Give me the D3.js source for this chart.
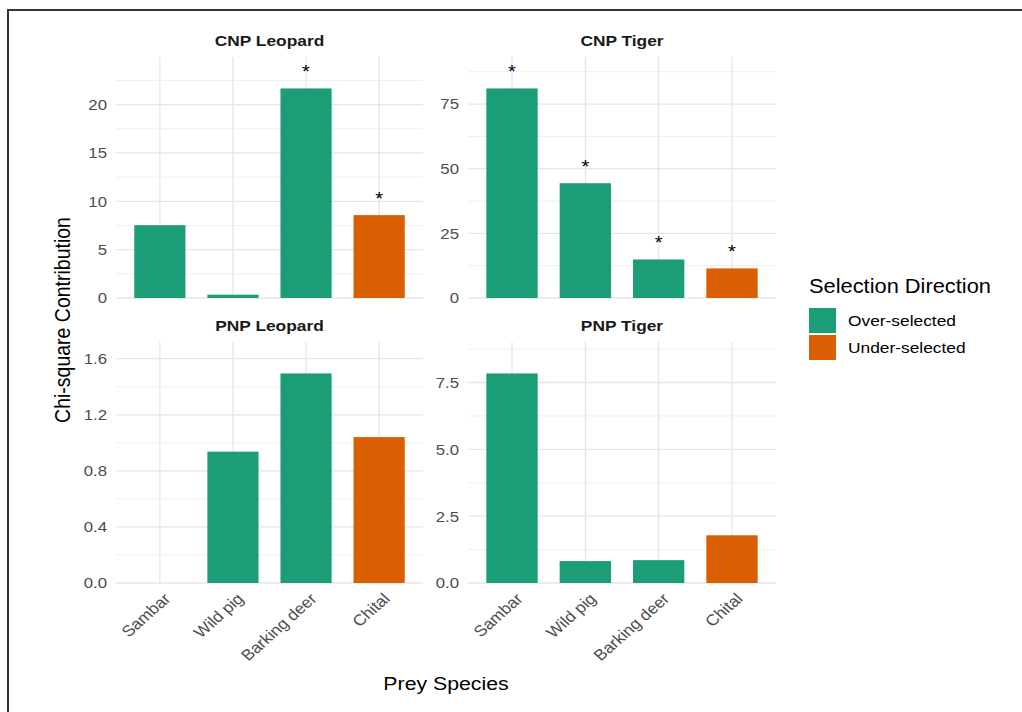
<!DOCTYPE html>
<html>
<head>
<meta charset="utf-8">
<script src="https://cdn.jsdelivr.net/npm/d3@7"></script>
<style>
  body { margin: 0; background: #fff; }
  svg { font-family: "Liberation Sans", Arial, sans-serif; }
</style>
</head>
<body>
<div id="chart"></div>
<script>
// data
const categories = ["Sambar", "Wild pig", "Barking deer", "Chital"];
const panelNames = ["CNP Leopard", "CNP Tiger", "PNP Leopard", "PNP Tiger"];
const cnpLeopard = [7.53, 0.34, 21.67, 8.57];
const cnpTiger = [81.05, 44.4, 14.9, 11.45];
const pnpLeopard = [0, 0.937, 1.495, 1.041];
const pnpTiger = [7.84, 0.82, 0.855, 1.785];
const direction = ["Over-selected", "Over-selected", "Over-selected", "Under-selected"];
const sigCnpLeopard = [false, false, true, true];
const sigCnpTiger = [true, true, true, true];
const sigPnp = [false, false, false, false];
// tick values per panel
const ticksCnpLeopard = [0, 5, 10, 15, 20];
const ticksCnpTiger = [0, 25, 50, 75];
const ticksPnpLeopard = [0, 0.4, 0.8, 1.2, 1.6];
const ticksPnpTiger = [0, 2.5, 5, 7.5];
const legendTitle = "Selection Direction";
const legendLabels = ["Over-selected", "Under-selected"];

const colors = { "Over-selected": "#1b9e77", "Under-selected": "#d95f02" };

// the source picture is a bit wider than tall, text looks stretched sideways
const STRETCH = 1.12;

const W = 1022, H = 712;
const svg = d3.select("#chart").append("svg")
  .attr("width", W).attr("height", H);

svg.append("rect").attr("width", W).attr("height", H).attr("fill", "#fff");

// outer frame of the picture
svg.append("path")
  .attr("d", `M8,${H + 5} L8,10 L${W + 5},10`)
  .attr("fill", "none").attr("stroke", "#333").attr("stroke-width", 2);

// put a text at x,y, stretched sideways, optional rotation
function place(x, y, rot) {
  return `translate(${x},${y}) scale(${STRETCH},1)` + (rot ? ` rotate(${rot})` : "");
}

const cols = [[116, 423], [468, 776]];
const rows = [[57, 298], [342, 583]];

const panels = [
  { name: panelNames[0], values: cnpLeopard, sig: sigCnpLeopard, ticks: ticksCnpLeopard, fmt: d3.format("d"), col: 0, row: 0 },
  { name: panelNames[1], values: cnpTiger, sig: sigCnpTiger, ticks: ticksCnpTiger, fmt: d3.format("d"), col: 1, row: 0 },
  { name: panelNames[2], values: pnpLeopard, sig: sigPnp, ticks: ticksPnpLeopard, fmt: d3.format(".1f"), col: 0, row: 1 },
  { name: panelNames[3], values: pnpTiger, sig: sigPnp, ticks: ticksPnpTiger, fmt: d3.format(".1f"), col: 1, row: 1 }
];

panels.forEach(p => {
  const [x0, x1] = cols[p.col];
  const [top, bottom] = rows[p.row];
  const g = svg.append("g");

  const x = d3.scaleBand().domain(categories).range([x0, x1])
    .paddingInner(0.3).paddingOuter(0.25);
  const y = d3.scaleLinear().domain([0, d3.max(p.values) * 1.15]).range([bottom, top]);

  // minor grid (midpoints between major ticks)
  const step = p.ticks[1] - p.ticks[0];
  const minor = d3.range(p.ticks[0] + step / 2, y.domain()[1], step);
  g.selectAll(".minor").data(minor).enter().append("line")
    .attr("x1", x0).attr("x2", x1)
    .attr("y1", d => y(d)).attr("y2", d => y(d))
    .attr("stroke", "#efefef").attr("stroke-width", 1);

  // major grid
  g.selectAll(".major").data(p.ticks).enter().append("line")
    .attr("x1", x0).attr("x2", x1)
    .attr("y1", d => y(d)).attr("y2", d => y(d))
    .attr("stroke", "#e6e6e6").attr("stroke-width", 1.3);

  g.selectAll(".vgrid").data(categories).enter().append("line")
    .attr("x1", d => x(d) + x.bandwidth() / 2).attr("x2", d => x(d) + x.bandwidth() / 2)
    .attr("y1", top).attr("y2", bottom)
    .attr("stroke", "#e6e6e6").attr("stroke-width", 1.3);

  // y axis labels
  g.selectAll(".ytick").data(p.ticks).enter().append("text")
    .attr("transform", d => place(x0 - 9, y(d)))
    .attr("dy", "0.36em")
    .attr("text-anchor", "end")
    .attr("fill", "#4d4d4d").style("font-size", "15px")
    .text(p.fmt);

  // bars
  g.selectAll(".bar").data(categories).enter().append("rect")
    .attr("x", d => x(d))
    .attr("width", x.bandwidth())
    .attr("y", (d, i) => y(p.values[i]))
    .attr("height", (d, i) => y(0) - y(p.values[i]))
    .attr("fill", (d, i) => colors[direction[i]]);

  // significance stars
  g.selectAll(".star").data(categories.filter((d, i) => p.sig[i])).enter().append("text")
    .attr("transform", d => place(x(d) + x.bandwidth() / 2, y(p.values[categories.indexOf(d)]) - 10))
    .attr("text-anchor", "middle")
    .style("font-size", "18px")
    .attr("fill", "#000")
    .text("*");

  // facet strip title
  g.append("text")
    .attr("transform", place((x0 + x1) / 2, top - 11))
    .attr("text-anchor", "middle")
    .style("font-size", "15.5px").style("font-weight", "bold")
    .attr("fill", "#1a1a1a")
    .text(p.name);

  // x labels only on bottom row
  if (p.row === 1) {
    g.selectAll(".xlab").data(categories).enter().append("text")
      .attr("transform", d => place(x(d) + x.bandwidth() / 2 + 3, bottom + 9, -45))
      .attr("dy", "0.71em")
      .attr("text-anchor", "end")
      .attr("fill", "#4d4d4d").style("font-size", "15.5px")
      .text(d => d);
  }
});

// axis titles
svg.append("text")
  .attr("transform", place(70, (rows[0][0] + rows[1][1]) / 2, -90))
  .attr("text-anchor", "middle")
  .style("font-size", "19.5px").attr("fill", "#000")
  .text("Chi-square Contribution");

svg.append("text")
  .attr("transform", place((cols[0][0] + cols[1][1]) / 2, 690))
  .attr("text-anchor", "middle")
  .style("font-size", "19px").attr("fill", "#000")
  .text("Prey Species");

// legend
const leg = svg.append("g").attr("transform", "translate(809,293)");
leg.append("text").attr("transform", place(0, 0))
  .style("font-size", "19.5px").attr("fill", "#000")
  .text(legendTitle);
const li = leg.selectAll(".item").data(legendLabels).enter().append("g")
  .attr("transform", (d, i) => `translate(0,${15 + i * 27})`);
li.append("rect").attr("width", 27).attr("height", 25)
  .attr("fill", d => colors[d]);
li.append("text").attr("transform", place(39, 18))
  .style("font-size", "15.5px").attr("fill", "#000")
  .text(d => d);
</script>
</body>
</html>
